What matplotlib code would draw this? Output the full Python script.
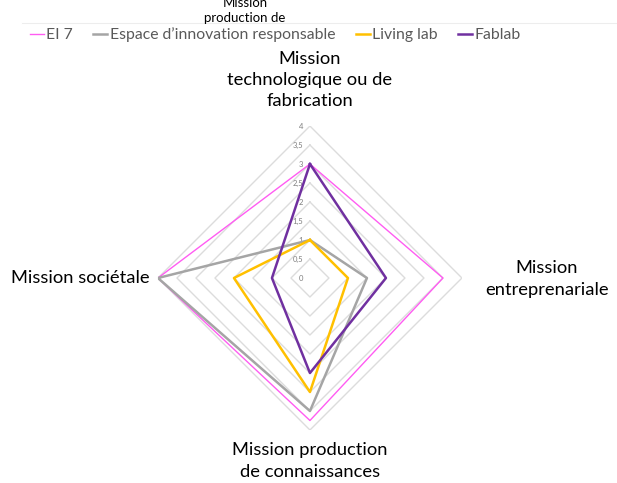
import numpy as np
import matplotlib.pyplot as plt
from matplotlib.lines import Line2D

plt.rcParams['font.family'] = ['Lato', 'DejaVu Sans']

# axes: top, right, bottom, left (clockwise)
categories = ["Mission\ntechnologique ou de\nfabrication",
              "Mission\nentreprenariale",
              "Mission production\nde connaissances",
              "Mission sociétale"]
series_names = ["EI 7", "Espace d\u2019innovation responsable", "Living lab", "Fablab"]
ei7 = [3, 3.5, 3.75, 4]
espace = [1, 1.5, 3.5, 4]
living_lab = [1, 1, 3, 2]
fablab = [3, 2, 2.5, 1]
ring_levels = [0.5, 1, 1.5, 2, 2.5, 3, 3.5, 4]
tick_labels = ["0", "0,5", "1", "1,5", "2", "2,5", "3", "3,5", "4"]

colors = ['#FF5CF2', '#A5A5A5', '#FFC000', '#7030A0']
widths = [1.0, 1.8, 1.8, 1.8]

fig = plt.figure(figsize=(6.17, 4.83), dpi=100)
ax = fig.add_axes([0.256, 0.1097, 0.4927, 0.6294], projection='polar')
ax.set_theta_zero_location('N')
ax.set_theta_direction(-1)
ax.set_ylim(0, 4)
ax.grid(False)
ax.spines['polar'].set_visible(False)
ax.set_xticks([])
ax.set_yticks([])

angles = np.arange(len(categories)) * 2 * np.pi / len(categories)
closed = np.append(angles, angles[0])

# diamond rings
for lv in ring_levels:
    ax.plot(closed, [lv] * len(closed), color='#DCDCDC', lw=1.0, zorder=1)

# radial tick labels along the top axis
for i, t in enumerate(tick_labels):
    ax.annotate(t, xy=(0, i * 0.5), xytext=(-5, 0), textcoords='offset points',
                fontsize=5.5, color='#7F7F7F', ha='right', va='center')

data = [ei7, espace, living_lab, fablab]
for name, vals, c, w in zip(series_names, data, colors, widths):
    v = list(vals) + [vals[0]]
    ax.plot(closed, v, color=c, lw=w, label=name, zorder=3)

# category labels
fig.text(310 / 617, 1 - 80 / 483, categories[0], ha='center', va='center',
         fontsize=13.2, linespacing=1.4)
fig.text(547 / 617, 1 - 279 / 483, categories[1], ha='center', va='center',
         fontsize=13.2, linespacing=1.4)
fig.text(310 / 617, 1 - 461 / 483, categories[2], ha='center', va='center',
         fontsize=13.2, linespacing=1.4)
fig.text(150 / 617, 1 - 278 / 483, categories[3], ha='right', va='center',
         fontsize=13.2)

# clipped title remnant at top
fig.text(245 / 617, 1 - 24 / 483, "Mission\nproduction de", ha='center', va='bottom',
         fontsize=9.5, linespacing=1.3)
fig.add_artist(Line2D([22 / 617, 1], [1 - 23 / 483, 1 - 23 / 483], color='#EDEDED', lw=0.8))

fig.legend(loc='center', bbox_to_anchor=(0.446, 1 - 35 / 483), ncol=4, frameon=False,
           fontsize=11.3, handlelength=0.9, handletextpad=0.15, columnspacing=1.3,
           labelcolor='#595959')

fig.savefig('out.png', dpi=100)
